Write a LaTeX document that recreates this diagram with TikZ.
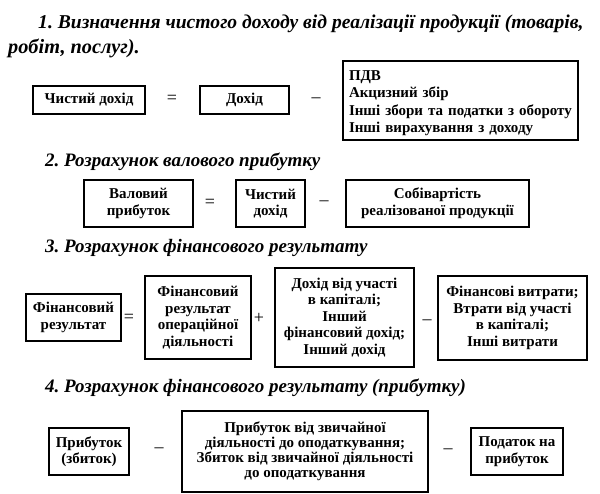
\documentclass[tikz,border=0pt]{standalone}
\usepackage{fontspec}
\setmainfont{Liberation Serif}
\begin{document}
\frenchspacing
\begin{tikzpicture}[x=1pt,y=-1pt,
  box/.style={draw, line width=1.4pt, inner sep=0pt, align=center,
    font=\bfseries\fontsize{15}{16.5}\selectfont},
  title/.style={anchor=west, inner sep=0pt, font=\bfseries\itshape\fontsize{19}{20}\selectfont},
  bigtitle/.style={title, font=\bfseries\itshape\fontsize{19.6}{22}\selectfont},
  op/.style={inner sep=0pt, font=\fontsize{18}{20}\selectfont}]
\useasboundingbox (0,0) rectangle (600,494);

% Section 1
\node[bigtitle] (t1a) at (38,24) {1. Визначення чистого доходу від реалізації продукції (товарів,};
\node[bigtitle, font=\bfseries\itshape\fontsize{20.3}{22}\selectfont] (t1b) at (8,48) {робіт, послуг).};
\node[box, minimum width=112pt, minimum height=28pt] (r1a) at (89,100) {Чистий дохід};
\node[op] (eq1) at (172,99) {=};
\node[box, minimum width=89pt, minimum height=28pt] (r1b) at (244.5,100) {Дохід};
\node[op] (mi1) at (316,100) {–};
\node[box, minimum width=235pt, minimum height=79pt] (r1c) at (460.5,100.5) {};
\node[inner sep=0pt, text width=223pt, align=left,
  font=\bfseries\fontsize{15}{17.5}\selectfont] (r1ct) at ([yshift=-2.5pt]r1c.center)
  {ПДВ\\Акцизний збір\\Інші збори та податки з обороту\\Інші вирахування з доходу};

% Section 2
\node[title] (t2) at (45,162) {2. Розрахунок валового прибутку};
\node[box, minimum width=109pt, minimum height=47pt] (r2a) at (138.5,203.5) {Валовий\\прибуток};
\node[op] (eq2) at (210,203) {=};
\node[box, minimum width=69pt, minimum height=47pt] (r2b) at (270.5,203.5) {Чистий\\дохід};
\node[op] (mi2) at (324,203) {–};
\node[box, minimum width=183pt, minimum height=47pt] (r2c) at (437.5,203.5) {Собівартість\\реалізованої продукції};

% Section 3
\node[title] (t3) at (45,248) {3. Розрахунок фінансового результату};
\node[box, minimum width=95pt, minimum height=47pt] (r3a) at (73.5,317.5) {Фінансовий\\результат};
\node[op] (eq3) at (129,318) {=};
\node[box, minimum width=106pt, minimum height=83pt] (r3b) at (198,317.5) {Фінансовий\\результат\\операційної\\діяльності};
\node[op] (pl3) at (259,318) {+};
\node[box, minimum width=139pt, minimum height=99pt] (r3c) at (344.5,317.5) {Дохід від участі\\в капіталі;\\Інший\\фінансовий дохід;\\Інший дохід};
\node[op] (mi3) at (427,322) {–};
\node[box, minimum width=149pt, minimum height=84pt] (r3d) at (512.5,318) {Фінансові витрати;\\Втрати від участі\\в капіталі;\\Інші витрати};

% Section 4
\node[title] (t4) at (45,388) {4. Розрахунок фінансового результату (прибутку)};
\node[box, minimum width=80pt, minimum height=47pt] (r4a) at (89,451.5) {Прибуток\\(збиток)};
\node[op] (mi4) at (159,450) {–};
\node[box, minimum width=246pt, minimum height=81pt, font=\bfseries\fontsize{15}{15}\selectfont] (r4b) at (305,451.5) {Прибуток від звичайної\\діяльності до оподаткування;\\Збиток від звичайної діяльності\\до оподаткування};
\node[op] (mi5) at (448,451) {–};
\node[box, minimum width=92pt, minimum height=47pt] (r4c) at (517,451.5) {Податок на\\прибуток};
\end{tikzpicture}
\end{document}
